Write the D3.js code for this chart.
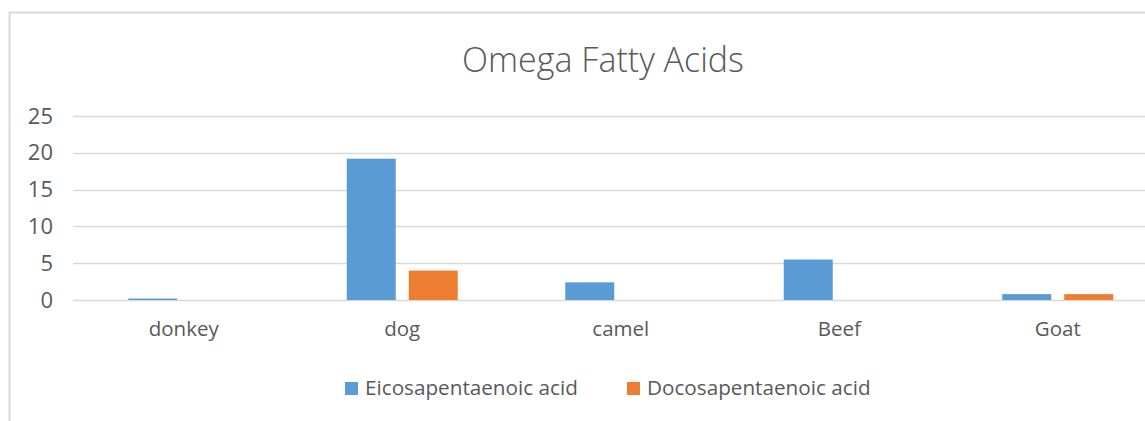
<!DOCTYPE html>
<html>
<head>
<meta charset="utf-8">
<script src="https://cdn.jsdelivr.net/npm/d3@7"></script>
<style>
  body { margin: 0; background: #fff; }
  text { font-family: "Open Sans", "Noto Sans", sans-serif; fill: #595959; }
</style>
</head>
<body>
<svg id="chart"></svg>
<script>
// chart data
const categories = ['donkey', 'dog', 'camel', 'Beef', 'Goat'];
const seriesNames = ['Eicosapentaenoic acid', 'Docosapentaenoic acid'];
const epa = [0.2, 19.2, 2.4, 5.5, 0.8];
const dpa = [0, 4.0, 0, 0, 0.8];
const yTicks = [0, 5, 10, 15, 20, 25];
const colors = ['#5B9BD5', '#ED7D31'];

const width = 1145, height = 421;
const svg = d3.select('#chart').attr('width', width).attr('height', height);

// chart border (runs off the right / bottom like the screenshot)
svg.append('rect')
  .attr('x', 9.5).attr('y', 12.5)
  .attr('width', 1200).attr('height', 500)
  .attr('fill', 'none').attr('stroke', '#d9d9d9').attr('stroke-width', 2);

svg.append('text')
  .attr('x', 603).attr('y', 72)
  .attr('text-anchor', 'middle')
  .style('font-size', '34px').style('font-weight', 300)
  .text('Omega Fatty Acids');

const plotLeft = 74.5, plotRight = 74.5 + 5 * 218.5;
const x = d3.scaleBand().domain(categories).range([plotLeft, plotRight]);
const y = d3.scaleLinear().domain([0, 25]).range([300, 116]);

// gridlines
svg.append('g').selectAll('line')
  .data(yTicks)
  .enter()
  .append('line')
  .attr('x1', 73).attr('x2', width)
  .attr('y1', d => Math.round(y(d)) + 0.5)
  .attr('y2', d => Math.round(y(d)) + 0.5)
  .attr('stroke', '#d9d9d9').attr('stroke-width', 1.3);

// y axis
const yAxis = svg.append('g')
  .attr('transform', 'translate(53,0)')
  .call(d3.axisLeft(y).tickValues(yTicks).tickSize(0).tickPadding(0));
yAxis.select('.domain').remove();
yAxis.selectAll('text')
  .style('font-size', '22px')
  .attr('fill', '#595959');

// x axis labels
const xAxis = svg.append('g')
  .attr('transform', 'translate(0,300)')
  .call(d3.axisBottom(x).tickSize(0).tickPadding(21));
xAxis.select('.domain').remove();
xAxis.selectAll('text')
  .style('font-size', '20.5px')
  .attr('fill', '#595959');

// bars: Excel default gap 219%, overlap -27%
const barW = 49, barGap = 13;
const groupW = 2 * barW + barGap;
const seriesData = [epa, dpa];
seriesData.forEach((vals, s) => {
  svg.append('g').selectAll('rect')
    .data(vals)
    .enter()
    .append('rect')
    .attr('x', (d, i) => x(categories[i]) + x.bandwidth() / 2 - groupW / 2 + s * (barW + barGap))
    .attr('y', d => y(d))
    .attr('width', barW)
    .attr('height', d => y(0) - y(d))
    .attr('fill', colors[s]);
});

// legend
const legendItems = [{ x: 345, name: seriesNames[0], c: colors[0] }, { x: 627, name: seriesNames[1], c: colors[1] }];
const legend = svg.append('g');
legend.selectAll('rect')
  .data(legendItems)
  .enter()
  .append('rect')
  .attr('x', d => d.x).attr('y', 382)
  .attr('width', 13).attr('height', 13)
  .attr('fill', d => d.c);
legend.selectAll('text')
  .data(legendItems)
  .enter()
  .append('text')
  .attr('x', d => d.x + 20).attr('y', 395)
  .style('font-size', '20.7px')
  .text(d => d.name);
</script>
</body>
</html>
